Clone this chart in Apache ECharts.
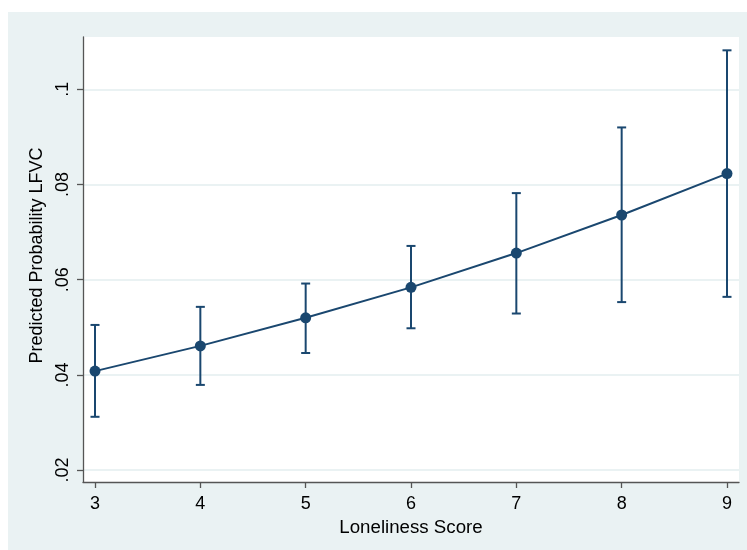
<!DOCTYPE html>
<html>
<head>
<meta charset="utf-8">
<script src="https://cdn.jsdelivr.net/npm/echarts@6/dist/echarts.min.js"></script>
<style>
html,body{margin:0;padding:0;background:#ffffff;}
#chart{width:747px;height:550px;}
</style>
</head>
<body>
<div id="chart"></div>
<script>
var scores = [3, 4, 5, 6, 7, 8, 9];
var predicted = [0.0408, 0.0461, 0.0520, 0.0584, 0.0656, 0.0736, 0.0823];
var lower = [0.0312, 0.0379, 0.0446, 0.0498, 0.0529, 0.0553, 0.0564];
var upper = [0.0505, 0.0543, 0.0592, 0.0671, 0.0782, 0.0920, 0.1082];
var yTicks = [0.02, 0.04, 0.06, 0.08, 0.10];
var xTicks = [3, 4, 5, 6, 7, 8, 9];

var navy = '#1a476f';
var font = 'Liberation Sans, Arial, sans-serif';

function fmtY(v) {
  var s = (Math.round(v * 100) / 100).toString();
  return s.replace(/^0/, '');
}

var chart = echarts.init(document.getElementById('chart'), null, {renderer: 'canvas'});
chart.setOption({
  backgroundColor: '#ffffff',
  animation: false,
  graphic: [{
    type: 'rect', z: -10, silent: true,
    shape: {x: 8, y: 12, width: 739, height: 538},
    style: {fill: '#eaf2f3'}
  }],
  grid: {
    left: 83, top: 37, right: 8, bottom: 68,
    show: true, backgroundColor: '#ffffff', borderWidth: 0
  },
  xAxis: {
    type: 'value', min: 2.886, max: 9.114,
    name: 'Loneliness Score', nameLocation: 'middle', nameGap: 32,
    nameTextStyle: {fontFamily: font, fontSize: 18.7, color: '#000'},
    axisLine: {show: true, onZero: false, lineStyle: {color: '#555', width: 1.3}},
    axisTick: {show: true, length: 6, customValues: xTicks, lineStyle: {color: '#555', width: 1.3}},
    axisLabel: {customValues: xTicks, fontFamily: font, fontSize: 18, color: '#000', margin: 13},
    splitLine: {show: false}
  },
  yAxis: {
    type: 'value', min: 0.0175, max: 0.111,
    name: 'Predicted Probability LFVC', nameLocation: 'middle', nameGap: 31, nameRotate: 90,
    nameTextStyle: {fontFamily: font, fontSize: 18, color: '#000', padding: [0, 0, 0, 8]},
    axisLine: {show: true, onZero: false, lineStyle: {color: '#555', width: 1.3}},
    axisTick: {show: true, length: 6, customValues: yTicks, lineStyle: {color: '#555', width: 1.3}},
    axisLabel: {customValues: yTicks, rotate: 90, formatter: fmtY, fontFamily: font, fontSize: 18, color: '#000', margin: 11},
    splitLine: {show: true, lineStyle: {color: '#eaf2f3', width: 2}}
  },
  series: [
    {
      type: 'custom',
      data: scores.map(function (s, i) { return [s, lower[i], upper[i]]; }),
      encode: {x: 0, y: [1, 2]},
      renderItem: function (params, api) {
        var x = api.value(0);
        var lo = api.coord([x, api.value(1)]);
        var hi = api.coord([x, api.value(2)]);
        var hw = 4.5;
        var st = {stroke: navy, lineWidth: 2, fill: null};
        return {
          type: 'group',
          children: [
            {type: 'line', shape: {x1: lo[0], y1: lo[1], x2: hi[0], y2: hi[1]}, style: st},
            {type: 'line', shape: {x1: lo[0] - hw, y1: lo[1], x2: lo[0] + hw, y2: lo[1]}, style: st},
            {type: 'line', shape: {x1: hi[0] - hw, y1: hi[1], x2: hi[0] + hw, y2: hi[1]}, style: st}
          ]
        };
      },
      z: 2
    },
    {
      type: 'line',
      data: scores.map(function (s, i) { return [s, predicted[i]]; }),
      symbol: 'circle', symbolSize: 11,
      lineStyle: {color: navy, width: 2},
      itemStyle: {color: navy},
      z: 3
    }
  ]
});
</script>
</body>
</html>
